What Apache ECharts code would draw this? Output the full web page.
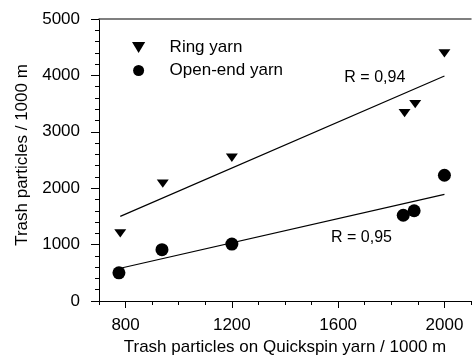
<!DOCTYPE html>
<html>
<head>
<meta charset="utf-8">
<script src="https://cdn.jsdelivr.net/npm/echarts@6/dist/echarts.min.js"></script>
<style>
  html, body { margin: 0; padding: 0; background: #fff; }
  #chart { width: 474px; height: 364px; }
</style>
</head>
<body>
<div id="chart"></div>
<script>
// Trash particles on Quickspin yarn vs. trash particles in spun yarn
const ringX = [780, 940, 1200, 1850, 1890, 2000];
const ringY = [1200, 2080, 2540, 3330, 3490, 4390];
const openX = [775, 937, 1200, 1845, 1886, 2000];
const openY = [500, 910, 1010, 1520, 1600, 2230];
// Regression line end points
const ringFitX = [780, 2000];
const ringFitY = [1500, 3990];
const openFitX = [780, 2000];
const openFitY = [580, 1890];
const xMajorTicks = [800, 1200, 1600, 2000];
const seriesNames = ['Ring yarn', 'Open-end yarn'];
const rLabels = ['R = 0,94', 'R = 0,95'];

const FONT = '"Liberation Sans", Arial, sans-serif';
const zip = (xs, ys) => xs.map((x, i) => [x, ys[i]]);
const downTriangle = 'path://M0,0 L12,0 L6,10 Z';

// Invisible anchor carrying a text label at a data coordinate
const textAt = (text, x, y) => ({
  symbol: 'circle', symbolSize: 1,
  itemStyle: { color: 'rgba(0,0,0,0)' },
  label: { show: true, position: 'inside', formatter: text, fontSize: 16, color: '#000', fontFamily: FONT },
  data: [{ coord: [x, y] }]
});

const chart = echarts.init(document.getElementById('chart'), null, { renderer: 'canvas' });

chart.setOption({
  animation: false,
  backgroundColor: '#fff',
  textStyle: { fontFamily: FONT },
  grid: { left: 99, top: 19, right: -5, bottom: 63, containLabel: false },
  legend: {
    data: seriesNames,
    orient: 'vertical',
    left: 127,
    top: 34,
    itemWidth: 52,
    itemHeight: 11,
    itemGap: 6,
    selectedMode: false,
    textStyle: { fontFamily: FONT, fontSize: 17, color: '#000' }
  },
  xAxis: [
    {
      type: 'value', min: 700, max: 2100, interval: 100,
      position: 'bottom',
      splitLine: { show: false },
      axisLine: { show: true, lineStyle: { color: '#000', width: 1 } },
      axisTick: { show: true, length: 4, lineStyle: { color: '#000' } },
      axisLabel: {
        margin: 16, fontSize: 17, color: '#000', fontFamily: FONT,
        formatter: v => (xMajorTicks.includes(v) ? String(v) : '')
      },
      name: 'Trash particles on Quickspin yarn / 1000 m',
      nameLocation: 'middle', nameGap: 38,
      nameTextStyle: { fontSize: 17, color: '#000', fontFamily: FONT }
    },
    {
      type: 'value', min: 700, max: 2100,
      position: 'bottom',
      splitLine: { show: false },
      axisLine: { show: false },
      axisTick: { show: true, length: 7, customValues: xMajorTicks, lineStyle: { color: '#000' } },
      axisLabel: { show: false }
    },
    {
      type: 'value', min: 700, max: 2100,
      position: 'top',
      splitLine: { show: false },
      axisLine: { show: true, lineStyle: { color: '#555', width: 1.5 } },
      axisTick: { show: false },
      axisLabel: { show: false }
    }
  ],
  yAxis: {
    type: 'value', min: 0, max: 5000, interval: 1000,
    splitLine: { show: false },
    axisLine: { show: true, lineStyle: { color: '#000', width: 1 } },
    axisTick: { show: true, length: 8, lineStyle: { color: '#000' } },
    minorTick: { show: true, splitNumber: 5, length: 4, lineStyle: { color: '#000' } },
    minorSplitLine: { show: false },
    axisLabel: { margin: 19, fontSize: 17, color: '#000', fontFamily: FONT, formatter: v => String(v) },
    name: 'Trash particles / 1000 m',
    nameLocation: 'middle', nameGap: 68,
    nameTextStyle: { fontSize: 17, color: '#000', fontFamily: FONT, padding: [0, 0, 0, 10] }
  },
  series: [
    {
      name: seriesNames[0], type: 'scatter',
      symbol: downTriangle, symbolSize: [12, 10], symbolKeepAspect: true,
      itemStyle: { color: '#000', opacity: 1 },
      data: zip(ringX, ringY), z: 5
    },
    {
      name: seriesNames[1], type: 'scatter',
      symbol: 'circle', symbolSize: 13,
      itemStyle: { color: '#000', opacity: 1 },
      data: zip(openX, openY), z: 5
    },
    {
      name: 'ringFit', type: 'line', symbol: 'none',
      lineStyle: { color: '#000', width: 1.2 },
      data: zip(ringFitX, ringFitY),
      markPoint: textAt(rLabels[0], 1738, 3954)
    },
    {
      name: 'openFit', type: 'line', symbol: 'none',
      lineStyle: { color: '#000', width: 1.2 },
      data: zip(openFitX, openFitY),
      markPoint: textAt(rLabels[1], 1688, 1117)
    }
  ]
});
</script>
</body>
</html>
